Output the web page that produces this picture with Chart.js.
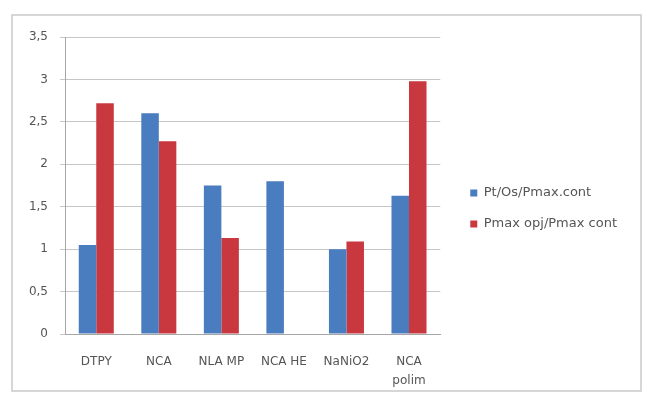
<!DOCTYPE html>
<html>
<head>
<meta charset="utf-8">
<script src="https://cdn.jsdelivr.net/npm/chart.js@4/dist/chart.umd.min.js"></script>
<style>
html,body{margin:0;padding:0;background:#fff;}
#wrap{width:647px;height:394px;position:relative;}
</style>
</head>
<body>
<div id="wrap"><canvas id="c" width="647" height="394"></canvas></div>
<script>
const categories = ['DTPY', 'NCA', 'NLA MP', 'NCA HE', 'NaNiO2', ['NCA', 'polim']];
const seriesNames = ['Pt/Os/Pmax.cont', 'Pmax opj/Pmax cont'];
const seriesBlue = [1.05, 2.60, 1.75, 1.80, 1.00, 1.63];
const seriesRed = [2.72, 2.27, 1.13, null, 1.09, 2.98];
const yTicks = [0, 0.5, 1, 1.5, 2, 2.5, 3, 3.5];

const borderPlugin = {
  id: 'outerBorder',
  beforeDraw(chart) {
    const ctx = chart.ctx;
    ctx.save();
    ctx.fillStyle = '#fff';
    ctx.fillRect(0, 0, chart.width, chart.height);
    ctx.strokeStyle = '#c9c9c9';
    ctx.lineWidth = 1.5;
    ctx.strokeRect(12, 15, 629, 376);
    ctx.restore();
  },
  afterLayout(chart) {
    const lg = chart.legend;
    if (lg) { lg.left += 12; lg.right += 12; lg.top -= 7; lg.bottom -= 7; }
  }
};

new Chart(document.getElementById('c'), {
  type: 'bar',
  data: {
    labels: categories,
    datasets: [
      { label: seriesNames[0], data: seriesBlue, backgroundColor: '#4a7dc0', borderWidth: 0 },
      { label: seriesNames[1], data: seriesRed, backgroundColor: '#c9383f', borderWidth: 0 }
    ]
  },
  options: {
    responsive: false,
    animation: false,
    devicePixelRatio: 1,
    layout: { padding: { left: 12, top: 37, right: 32, bottom: 0 } },
    datasets: { bar: { categoryPercentage: 0.56, barPercentage: 1.0 } },
    plugins: {
      legend: {
        position: 'right',
        maxWidth: 220,
        labels: {
          boxWidth: 7, boxHeight: 7, padding: 18,
          color: '#555',
          font: { family: 'DejaVu Sans', size: 13 }
        }
      },
      tooltip: { enabled: false }
    },
    scales: {
      x: {
        grid: { display: false, drawTicks: false },
        border: { color: '#a6a6a6', width: 1 },
        ticks: {
          color: '#555', padding: 18, maxRotation: 0, autoSkip: false,
          font: { family: 'DejaVu Sans', size: 12, lineHeight: 1.6 }
        },
        afterFit(s) { s.height = 60; }
      },
      y: {
        min: 0, max: 3.5,
        afterBuildTicks(s) { s.ticks = yTicks.map(v => ({ value: v })); },
        grid: { color: '#c6c6c6', lineWidth: 1, tickLength: 5 },
        border: { color: '#a6a6a6', width: 1 },
        ticks: {
          color: '#555', padding: 12,
          font: { family: 'DejaVu Sans', size: 12 },
          callback: v => String(v).replace('.', ',')
        },
        afterFit(s) { s.width = 53; }
      }
    }
  },
  plugins: [borderPlugin]
});
</script>
</body>
</html>
